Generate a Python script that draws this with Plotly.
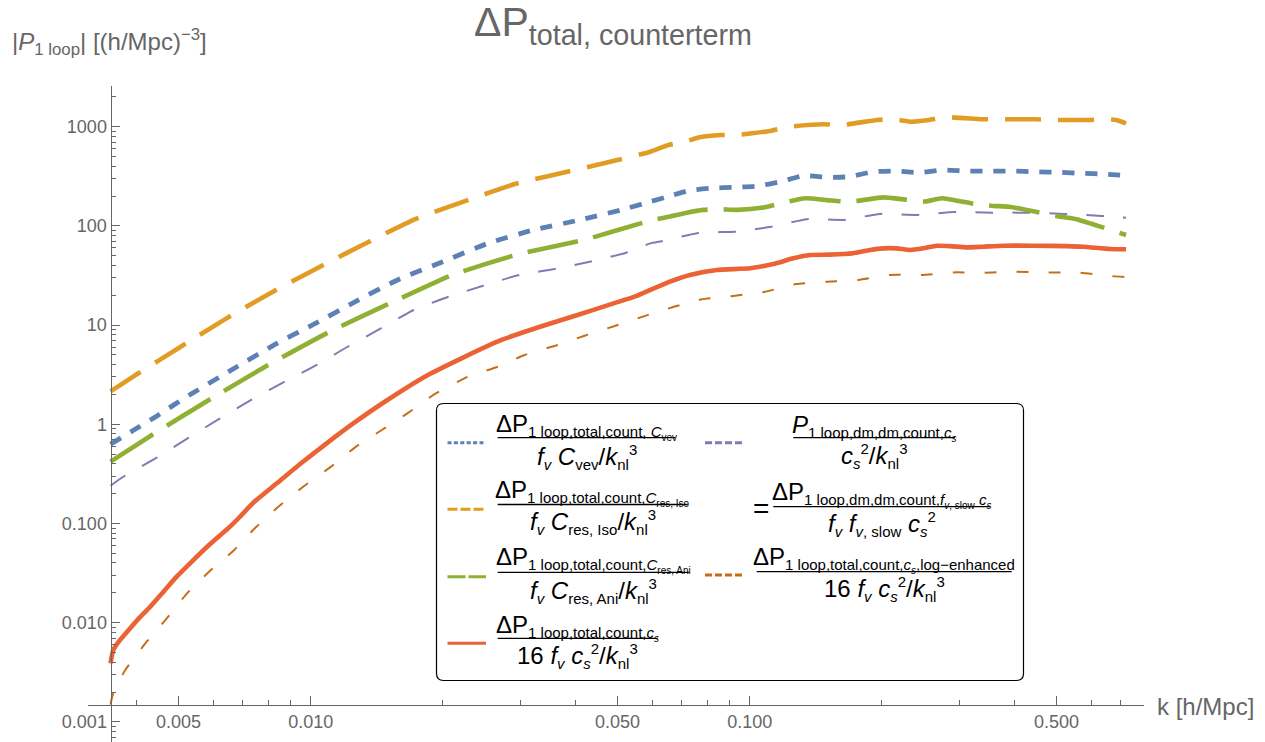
import plotly.graph_objects as go

# ---------------- data ----------------
k_vev = [0.0035, 0.00398, 0.00442, 0.00488, 0.0054, 0.00676, 0.00838, 0.01033, 0.01283, 0.0159, 0.020,
         0.0251, 0.0317, 0.0403, 0.0508, 0.0594, 0.0643, 0.0724, 0.0819, 0.0926, 0.104, 0.1177, 0.1325,
         0.150, 0.1687, 0.1906, 0.2154, 0.243, 0.275, 0.311, 0.352, 0.397, 0.449, 0.507, 0.570, 0.644, 0.72]
p_vev = [0.63, 0.89, 1.18, 1.57, 2.08, 3.76, 6.55, 10.6, 17.9, 29, 43.6,
         65.7, 89.6, 113, 144, 176, 194, 226, 240, 245, 252, 279, 321,
         309, 313, 351, 357, 344, 366, 357, 357, 357, 351, 347, 339, 333, 321]

k_iso = [0.0035, 0.00405, 0.0051, 0.00643, 0.00826, 0.0105, 0.0135, 0.0173, 0.0223, 0.0292, 0.0384,
         0.050, 0.0594, 0.0653, 0.0713, 0.077, 0.0856, 0.0934, 0.112, 0.123, 0.147, 0.162, 0.195, 0.213,
         0.234, 0.256, 0.281, 0.338, 0.37, 0.447, 0.488, 0.587, 0.644, 0.683, 0.72]
p_iso = [2.15, 3.27, 6.2, 11.7, 22.1, 38.8, 68.4, 117, 176, 264, 351,
         461, 560, 653, 706, 781, 824, 824, 912, 1000, 1057, 1040, 1169, 1188,
         1123, 1169, 1244, 1188, 1188, 1188, 1169, 1169, 1188, 1169, 1082]

k_ani = [0.0035, 0.00435, 0.0059, 0.0063, 0.0080, 0.01104, 0.01524, 0.0210, 0.0298, 0.0424, 0.0602,
         0.0656, 0.0719, 0.0784, 0.0855, 0.0937, 0.1074, 0.1225, 0.1336, 0.150, 0.163, 0.175, 0.2014,
         0.224, 0.251, 0.274, 0.326, 0.359, 0.390, 0.510, 0.555, 0.72]
p_ani = [0.42, 0.78, 1.79, 2.13, 3.96, 8.57, 16.8, 32, 52, 73.3, 115,
         124, 136, 145, 147, 145, 153, 176, 190, 182, 176, 178, 194,
         185, 176, 190, 166, 159, 156, 124, 117, 81]

k_cs = [0.0035, 0.00355, 0.00368, 0.00388, 0.00408, 0.0043, 0.00462, 0.00495, 0.00531, 0.0059, 0.00655,
        0.0069, 0.0074, 0.00837, 0.00946, 0.01087, 0.0125, 0.01463, 0.0182, 0.0223, 0.0272, 0.0333,
        0.0407, 0.0478, 0.0551, 0.0594, 0.0658, 0.0731, 0.0841, 0.1002, 0.1132, 0.1257, 0.1372, 0.152,
        0.172, 0.188, 0.2015, 0.216, 0.232, 0.2485, 0.2666, 0.286, 0.312, 0.340, 0.378, 0.443, 0.527,
        0.575, 0.662, 0.72]
p_cs = [0.0039, 0.0053, 0.0067, 0.0088, 0.0113, 0.0143, 0.0205, 0.0291, 0.0397, 0.0621, 0.0929,
        0.117, 0.162, 0.254, 0.398, 0.643, 1.02, 1.65, 3.02, 4.73, 7.08, 9.63,
        12.7, 16, 19.6, 22.6, 27.4, 32, 35.9, 37.4, 41.3, 47.1, 50.9, 51.3,
        53, 57.2, 59.4, 59.4, 57.2, 59.4, 63.1, 62.6, 60.8, 61.7, 63.1, 63.1, 62.6,
        61.7, 58.5, 58.1]

k_dm = [0.0035, 0.00374, 0.00442, 0.0052, 0.00616, 0.00727, 0.0086, 0.0103, 0.01208, 0.01448, 0.01717,
        0.0206, 0.0246, 0.0298, 0.0357, 0.0432, 0.0523, 0.0594, 0.063, 0.0764, 0.0926, 0.112, 0.135,
        0.164, 0.198, 0.241, 0.292, 0.356, 0.431, 0.522, 0.634, 0.72]
p_dm = [0.24, 0.296, 0.45, 0.706, 1.12, 1.73, 2.6, 3.94, 5.98, 9.3, 14.2,
        19.3, 24.8, 32, 36.5, 43.5, 53.7, 66.7, 70, 85, 87.5, 98, 117,
        115, 132, 129, 138, 136, 136, 132, 126, 121]

k_log = [0.0035, 0.00354, 0.00369, 0.00378, 0.00423, 0.0047, 0.00524, 0.0059, 0.00667, 0.0075, 0.00848,
         0.00966, 0.01107, 0.01262, 0.01452, 0.0167, 0.019, 0.0228, 0.0267, 0.0307, 0.0365, 0.0419,
         0.0493, 0.0578, 0.0672, 0.0778, 0.0918, 0.1084, 0.1275, 0.1498, 0.1768, 0.209, 0.2466, 0.291,
         0.343, 0.404, 0.479, 0.5655, 0.668, 0.72]
p_log = [0.0015, 0.00187, 0.00275, 0.00333, 0.00643, 0.01107, 0.02, 0.0334, 0.0532, 0.0916, 0.150,
         0.239, 0.368, 0.586, 0.876, 1.31, 1.97, 3.02, 3.81, 5.0, 6.3, 7.77,
         9.8, 12.4, 15.3, 18.2, 19.7, 21.7, 25.9, 27.4, 28.5, 32, 32, 34,
         33.8, 34.5, 34, 33.8, 31.2, 30.5]

x_major = [0.005, 0.01, 0.05, 0.1, 0.5]
x_major_text = ["0.005", "0.010", "0.050", "0.100", "0.500"]
x_minor = [0.004, 0.006, 0.007, 0.008, 0.009, 0.02, 0.03, 0.04, 0.06, 0.07, 0.08, 0.09,
           0.2, 0.3, 0.4, 0.6, 0.7]
y_major = [0.001, 0.01, 0.1, 1, 10, 100, 1000]
y_major_text = ["0.001", "0.010", "0.100", "1", "10", "100", "1000"]
y_minor = [m * 10.0 ** e for e in range(-4, 4) for m in range(2, 10)]

# ---------------- styling ----------------
W, H = 1265, 742
PL, PR, PT, PB = 88, 1144, 86, 742          # plot area in pixels
X0, DX = 310.7, 439.0                        # pixel of k=0.01, pixels per decade
Y0, DY = 126.7, 99.2                         # pixel of 1000, pixels per decade
FONT = "Liberation Sans, Arial, sans-serif"
GRAY = "#666666"


def kx(p):
    return (p - X0) / DX - 2


def vy(p):
    return 3 - (p - Y0) / DY


def fx(p):
    return (p - PL) / (PR - PL)


def fy(p):
    return (PB - p) / (PB - PT)


C_BLUE = "rgb(94,129,181)"
C_ORANGE = "rgb(225,156,36)"
C_GREEN = "rgb(143,176,50)"
C_RED = "rgb(235,98,53)"
C_PURPLE = "rgb(135,120,179)"
C_BROWN = "rgb(197,110,26)"

series = [
    (k_dm, p_dm, C_PURPLE, 2, "18px,19px"),
    (k_log, p_log, C_BROWN, 2, "12px,20px"),
    (k_vev, p_vev, C_BLUE, 4.8, "12px,11px"),
    (k_iso, p_iso, C_ORANGE, 4.6, "36px,17px"),
    (k_ani, p_ani, C_GREEN, 4.6, "51px,16px"),
    (k_cs, p_cs, C_RED, 4.6, "solid"),
]

fig = go.Figure()
for kk, pp, col, wd, dash in series:
    fig.add_trace(go.Scatter(x=kk, y=pp, mode="lines",
                             line=dict(color=col, width=wd, dash=dash, shape="spline", smoothing=0.5),
                             showlegend=False, hoverinfo="skip"))

axis_common = dict(showgrid=False, zeroline=False, showline=True, linecolor=GRAY, linewidth=1.2,
                   ticks="inside", tickcolor=GRAY, tickwidth=1, automargin=False,
                   tickfont=dict(size=18, color=GRAY, family=FONT))

fig.update_layout(
    width=W, height=H,
    margin=dict(l=PL, r=W - PR, t=PT, b=H - PB, pad=0),
    paper_bgcolor="white", plot_bgcolor="white",
    xaxis=dict(type="log", range=[kx(PL), kx(PR)], anchor="free", position=fy(705),
               tickmode="array", tickvals=x_major, ticktext=x_major_text, ticklen=9,
               minor=dict(tickmode="array", tickvals=x_minor, ticks="inside", ticklen=5,
                          tickcolor=GRAY, showgrid=False),
               **axis_common),
    yaxis=dict(type="log", range=[vy(PB), vy(PT)], anchor="free", position=fx(110.6),
               tickmode="array", tickvals=y_major, ticktext=y_major_text, ticklen=8,
               minor=dict(tickmode="array", tickvals=y_minor, ticks="inside", ticklen=4,
                          tickcolor=GRAY, showgrid=False),
               **axis_common),
    showlegend=False,
)

annotations = []


def ann(text, x, y, size, color="black", xanchor="center", yanchor="middle"):
    annotations.append(dict(text=text, x=fx(x), y=fy(y), xref="paper", yref="paper",
                            showarrow=False, xanchor=xanchor, yanchor=yanchor,
                            font=dict(size=size, color=color, family=FONT)))


def s(text, size):
    return f'<span style="font-size:{size}px">{text}</span>'


def sub(text, size=15):
    return f"<sub>{s(text, size)}</sub>"


def sup(text, size=15):
    return f"<sup>{s(text, size)}</sup>"


# title and axis labels
ann("ΔP<sub>total, counterterm</sub>", 613, 25, 41, GRAY)
ann("|<i>P</i><sub>1 loop</sub>| [(h/Mpc)<sup>−3</sup>]", 10, 42, 24, GRAY, xanchor="left")
ann("k [h/Mpc]", 1155, 706, 24, GRAY, xanchor="left")

shapes = []

# legend box with rounded corners
bx0, by0, bx1, by1, r = 436.5, 403.5, 1023.5, 680.5, 7


def P(x, y):
    return f"{fx(x):.5f},{fy(y):.5f}"


path = (f"M{P(bx0 + r, by0)} L{P(bx1 - r, by0)} Q{P(bx1, by0)} {P(bx1, by0 + r)} "
        f"L{P(bx1, by1 - r)} Q{P(bx1, by1)} {P(bx1 - r, by1)} L{P(bx0 + r, by1)} "
        f"Q{P(bx0, by1)} {P(bx0, by1 - r)} L{P(bx0, by0 + r)} Q{P(bx0, by0)} {P(bx0 + r, by0)} Z")
shapes.append(dict(type="path", path=path, xref="paper", yref="paper",
                   line=dict(color="black", width=1.2), fillcolor="white", layer="above"))

fv = "<i>f</i>" + sub("<i>v</i>")
knl3 = "/<i>k</i>" + sub("nl") + sup("3")
cs = "<i>c</i>" + sub("<i>s</i>")
cs_small = s("<i>c</i>", 15) + "<sub>" + s("<i>s</i>", 10) + "</sub>"
head = "ΔP<sub>" + s("1 loop,total,count,", 15)

legend_entries = [
    (447.5, 486, 442.7, C_BLUE, "4px,2.4px",
     head + s(" <i>C</i>", 15) + "<sub>" + s("vev", 10) + "</sub></sub>",
     fv + " <i>C</i>" + sub("vev") + knl3,
     497.7, 675.3, 437.7, 426, 457),
    (447.5, 486, 509.3, C_ORANGE, "10px,3px",
     head + s("<i>C</i>", 15) + "<sub>" + s("res, Iso", 10) + "</sub></sub>",
     fv + " <i>C</i>" + sub("res, Iso") + knl3,
     497.7, 687.7, 504.5, 492, 522),
    (447.5, 486, 576.7, C_GREEN, "18px,3px",
     head + s("<i>C</i>", 15) + "<sub>" + s("res, Ani", 10) + "</sub></sub>",
     fv + " <i>C</i>" + sub("res, Ani") + knl3,
     497.7, 689.3, 572.3, 559, 591),
    (447.5, 486, 643.3, C_RED, "solid",
     head + cs_small + "</sub>",
     "16 " + fv + " " + cs + sup("2") + knl3,
     497.7, 657.7, 638.3, 627, 656),
    (705, 745, 442.7, C_PURPLE, "7px,3px",
     "<i>P</i><sub>" + s("1 loop,dm,dm,count,", 15) + cs_small + "</sub>",
     cs + sup("2") + knl3,
     793.3, 955, 437.7, 427, 456),
    (None, None, None, None, None,
     "ΔP<sub>" + s("1 loop,dm,dm,count,", 15) + s("<i>f</i>", 15) + "<sub>" + s("<i>v</i>, slow", 10)
     + "</sub>" + s(" ", 15) + cs_small + "</sub>",
     fv + " <i>f</i>" + sub("<i>v</i>, slow") + " " + cs + sup("2"),
     773.3, 990, 506.7, 494, 524),
    (705, 745, 575, C_BROWN, "7px,3px",
     head + cs_small + s(",log−enhanced", 15) + "</sub>",
     "16 " + fv + " " + cs + sup("2") + knl3,
     756.7, 1011.7, 571.7, 559, 589),
]

for (sx0, sx1, sy, col, dash, num, den, bx0_, bx1_, bary, numy, deny) in legend_entries:
    if sx0 is not None:
        shapes.append(dict(type="line", xref="paper", yref="paper",
                           x0=fx(sx0), x1=fx(sx1), y0=fy(sy), y1=fy(sy),
                           line=dict(color=col, width=3, dash=dash), layer="above"))
    shapes.append(dict(type="line", xref="paper", yref="paper",
                       x0=fx(bx0_), x1=fx(bx1_), y0=fy(bary), y1=fy(bary),
                       line=dict(color="black", width=1.3), layer="above"))
    cx = (bx0_ + bx1_) / 2
    ann(num, cx, numy, 24)
    ann(den, cx, deny, 24)

ann("=", 761, 508, 28)

fig.update_layout(shapes=shapes, annotations=annotations)
fig.write_html("out.html", config={"displayModeBar": False},
               post_script="document.body.style.margin='0';")
